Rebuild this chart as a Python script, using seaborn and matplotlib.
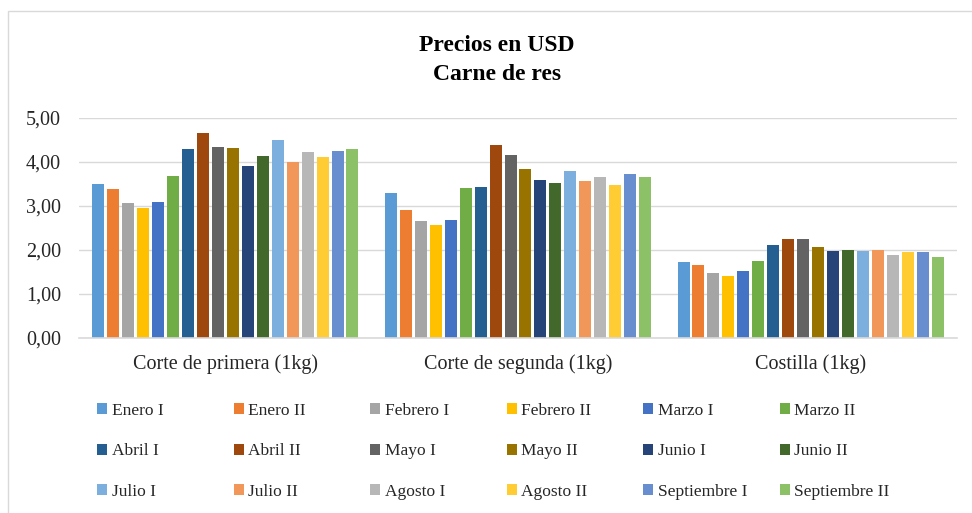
import numpy as np
import pandas as pd
import matplotlib
matplotlib.use("Agg")
import matplotlib.pyplot as plt
from matplotlib.patches import Rectangle
from matplotlib.ticker import FuncFormatter
import seaborn as sns

# data
cortes = ["Corte de primera (1kg)", "Corte de segunda (1kg)", "Costilla (1kg)"]
periodos = ["Enero I", "Enero II", "Febrero I", "Febrero II", "Marzo I", "Marzo II",
            "Abril I", "Abril II", "Mayo I", "Mayo II", "Junio I", "Junio II",
            "Julio I", "Julio II", "Agosto I", "Agosto II", "Septiembre I", "Septiembre II"]
primera = [3.49, 3.39, 3.06, 2.95, 3.08, 3.68, 4.30, 4.66, 4.34, 4.32, 3.91, 4.13,
           4.49, 4.00, 4.23, 4.12, 4.24, 4.29]
segunda = [3.30, 2.91, 2.67, 2.57, 2.68, 3.41, 3.43, 4.39, 4.16, 3.83, 3.59, 3.52,
           3.80, 3.57, 3.65, 3.48, 3.72, 3.66]
costilla = [1.73, 1.65, 1.48, 1.41, 1.52, 1.75, 2.11, 2.24, 2.24, 2.06, 1.97, 2.01,
            1.98, 1.99, 1.89, 1.95, 1.96, 1.83]
colores = ["#5B9BD5", "#ED7D31", "#A5A5A5", "#FFC000", "#4472C4", "#70AD47",
           "#255E91", "#9E480E", "#636363", "#997300", "#264478", "#43682B",
           "#7CAFDD", "#F1975A", "#B7B7B7", "#FFCD33", "#698ED0", "#8CC168"]

rows = []
for corte, vals in zip(cortes, [primera, segunda, costilla]):
    for p, v in zip(periodos, vals):
        rows.append({"corte": corte, "periodo": p, "precio": v})
df = pd.DataFrame(rows)

sns.set_theme(style="white")
plt.rcParams['font.family'] = ['Liberation Serif', 'DejaVu Serif']

W, H = 972, 513
fig = plt.figure(figsize=(W / 100, H / 100), dpi=100)
ax = fig.add_axes([79 / W, 1 - 338 / H, (957 - 79) / W, (338 - 118) / H])

sns.barplot(data=df, x="corte", y="precio", hue="periodo", order=cortes,
            hue_order=periodos, palette=colores, width=0.92, gap=0.2,
            linewidth=0, saturation=1, ax=ax)

ax.set_ylim(0, 5)
ax.set_yticks(np.arange(0, 5.01, 1))
ax.yaxis.set_major_formatter(FuncFormatter(lambda v, _: f"{v:.2f}".replace(".", ",")))
ax.grid(axis="y", color="#D9D9D9", linewidth=1)
ax.set_axisbelow(True)
for s in ["left", "right", "top"]:
    ax.spines[s].set_visible(False)
ax.spines["bottom"].set_color("#D9D9D9")
ax.spines["bottom"].set_linewidth(1.2)
ax.tick_params(axis="both", length=0, labelsize=14.5, colors="#262626")
ax.tick_params(axis="y", pad=13)
ax.tick_params(axis="x", pad=12)
ax.set_xlabel("")
ax.set_ylabel("")

fig.text(497 / W, 1 - 60 / H, "Precios en USD\nCarne de res", ha="center", va="center",
         fontsize=17, fontweight="bold", linespacing=1.5, color="black")

# legend: 6 equal columns like the original
handles, labels = ax.get_legend_handles_labels()
ax.legend_.remove()
for i in range(6):
    idx = [i, i + 6, i + 12]
    fig.legend([handles[j] for j in idx], [labels[j] for j in idx],
               loc="upper left", bbox_to_anchor=((97 + 136.5 * i) / W, 1 - 403 / H),
               frameon=False, fontsize=12.5, handlelength=0.6, handleheight=0.6,
               handletextpad=0.25, labelspacing=1.4, borderpad=0, borderaxespad=0,
               labelcolor="#262626")

fig.patches.append(Rectangle((8 / W, -0.1), 1.2, 1.1 - 11 / H, transform=fig.transFigure,
                             fill=False, edgecolor="#D9D9D9", linewidth=1, clip_on=False))

fig.savefig("out.png", dpi=100)
